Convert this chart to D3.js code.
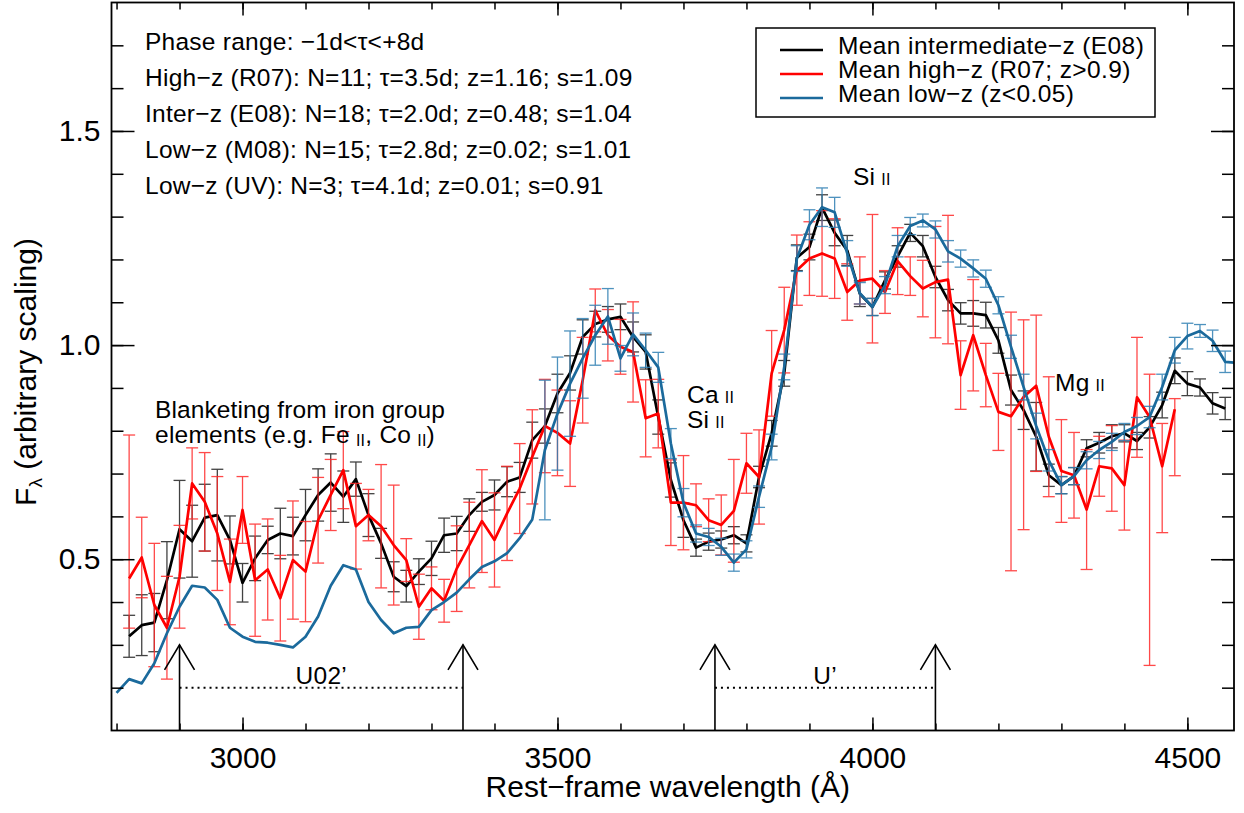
<!DOCTYPE html>
<html lang="en">
<head>
<meta charset="UTF-8">
<title>Mean SN Ia spectra - UV region</title>
<script src="https://d3js.org/d3.v7.min.js"></script>
<style>
  body { margin: 0; background: #fff; }
  svg { font-family: "Liberation Sans", Arial, Helvetica, sans-serif; }
  .axis text { font-size: 30px; fill: #000; }
  .axis line { stroke: #000; stroke-width: 1.5px; }
  .note { font-size: 24.5px; letter-spacing: 0.25px; fill: #000; }
</style>
</head>
<body>
<svg width="1244" height="813"></svg>
<script>
// wavelength grid of the mean spectra (Angstrom)
const wave = [2800, 2820, 2840, 2860, 2880, 2900, 2920, 2940, 2960, 2980,
              3000, 3020, 3040, 3060, 3080, 3100, 3120, 3140, 3160, 3180,
              3200, 3220, 3240, 3260, 3280, 3300, 3320, 3340, 3360, 3380,
              3400, 3420, 3440, 3460, 3480, 3500, 3520, 3540, 3560, 3580,
              3600, 3620, 3640, 3660, 3680, 3700, 3720, 3740, 3760, 3780,
              3800, 3820, 3840, 3860, 3880, 3900, 3920, 3940, 3960, 3980,
              4000, 4020, 4040, 4060, 4080, 4100, 4120, 4140, 4160, 4180,
              4200, 4220, 4240, 4260, 4280, 4300, 4320, 4340, 4360, 4380,
              4400, 4420, 4440, 4460, 4480, 4500, 4520, 4540, 4560, 4580];

// mean intermediate-z (E08), black
const interFlux = [null, 0.320, 0.346, 0.352, 0.451, 0.570, 0.542, 0.597, 0.603, 0.545,
                   0.445, 0.502, 0.545, 0.560, 0.554, 0.603, 0.650, 0.679, 0.646, 0.687,
                   0.603, 0.537, 0.459, 0.437, 0.471, 0.502, 0.556, 0.560, 0.603, 0.634,
                   0.650, 0.681, 0.691, 0.778, 0.811, 0.887, 0.935, 1.019, 1.049, 1.060,
                   1.066, 1.019, 0.984, 0.832, 0.685, 0.591, 0.527, 0.541, 0.546, 0.556,
                   0.537, 0.692, 0.794, 0.934, 1.204, 1.229, 1.321, 1.262, 1.221, 1.120,
                   1.089, 1.151, 1.207, 1.262, 1.231, 1.159, 1.105, 1.074, 1.074, 1.070,
                   1.011, 0.895, 0.848, 0.786, 0.696, 0.673, 0.694, 0.759, 0.772, 0.787,
                   0.794, 0.776, 0.808, 0.860, 0.940, 0.910, 0.901, 0.864, 0.852, null];
const interErr = [null, 0.049, 0.071, 0.068, 0.090, 0.114, 0.084, 0.078, 0.107, 0.056,
                  0.045, 0.052, 0.032, 0.059, 0.044, 0.060, 0.061, 0.067, 0.060, 0.040,
                  0.050, 0.035, 0.035, 0.037, 0.030, 0.040, 0.040, 0.040, 0.038, 0.022,
                  0.035, 0.035, 0.035, 0.042, 0.040, 0.045, 0.040, 0.040, 0.030, 0.030,
                  0.030, 0.035, 0.040, 0.040, 0.040, 0.040, 0.020, 0.020, 0.020, 0.020,
                  0.020, 0.025, 0.030, 0.030, 0.030, 0.030, 0.030, 0.030, 0.035, 0.030,
                  0.020, 0.020, 0.025, 0.020, 0.025, 0.025, 0.025, 0.025, 0.030, 0.030,
                  0.030, 0.035, 0.045, 0.080, 0.026, 0.020, 0.020, 0.020, 0.024, 0.027,
                  0.020, 0.020, 0.025, 0.030, 0.030, 0.028, 0.020, 0.025, 0.026, null];

// mean high-z (R07; z>0.9), red
const highFlux = [null, 0.455, 0.504, 0.393, 0.340, 0.459, 0.677, 0.634, 0.560, 0.447,
                  0.615, 0.451, 0.476, 0.409, 0.498, 0.471, 0.591, 0.650, 0.708, 0.577,
                  0.603, 0.577, 0.533, 0.498, 0.389, 0.432, 0.403, 0.478, 0.533, 0.589,
                  0.545, 0.607, 0.665, 0.739, 0.811, 0.795, 0.770, 0.918, 1.081, 1.023,
                  0.996, 0.984, 0.829, 0.840, 0.632, 0.632, 0.626, 0.591, 0.580, 0.613,
                  0.724, 0.692, 0.934, 1.035, 1.175, 1.202, 1.214, 1.202, 1.124, 1.151,
                  1.155, 1.124, 1.196, 1.161, 1.132, 1.147, 1.153, 0.930, 1.023, 0.930,
                  0.844, 0.834, 0.879, 0.905, 0.786, 0.706, 0.696, 0.616, 0.717, 0.712,
                  0.673, 0.878, 0.832, 0.717, 0.850, null, null, null, null, null];
const highErrMinus = [null, 0.116, 0.094, 0.144, 0.120, 0.120, 0.083, 0.115, 0.133, 0.100,
                      0.078, 0.131, 0.118, 0.100, 0.138, 0.117, 0.100, 0.083, 0.090, 0.100,
                      0.060, 0.144, 0.140, 0.050, 0.076, 0.050, 0.050, 0.100, 0.100, 0.120,
                      0.110, 0.110, 0.105, 0.110, 0.109, 0.100, 0.100, 0.100, 0.050, 0.060,
                      0.064, 0.117, 0.090, 0.080, 0.100, 0.110, 0.050, 0.050, 0.070, 0.120,
                      0.070, 0.110, 0.100, 0.100, 0.082, 0.086, 0.100, 0.093, 0.066, 0.055,
                      0.150, 0.050, 0.078, 0.045, 0.066, 0.130, 0.150, 0.080, 0.130, 0.074,
                      0.090, 0.361, 0.310, 0.200, 0.140, 0.120, 0.100, 0.140, 0.070, 0.100,
                      0.105, 0.140, 0.580, 0.155, 0.155, null, null, null, null, null];
const highErrPlus = [null, 0.335, 0.094, 0.144, 0.120, 0.120, 0.083, 0.115, 0.133, 0.100,
                     0.078, 0.131, 0.118, 0.100, 0.138, 0.117, 0.100, 0.083, 0.090, 0.100,
                     0.060, 0.144, 0.140, 0.050, 0.076, 0.050, 0.050, 0.100, 0.100, 0.120,
                     0.110, 0.110, 0.105, 0.110, 0.109, 0.100, 0.100, 0.100, 0.050, 0.060,
                     0.064, 0.117, 0.090, 0.080, 0.100, 0.110, 0.050, 0.050, 0.070, 0.120,
                     0.070, 0.110, 0.100, 0.100, 0.082, 0.086, 0.100, 0.093, 0.066, 0.055,
                     0.150, 0.050, 0.078, 0.045, 0.066, 0.130, 0.150, 0.080, 0.130, 0.074,
                     0.090, 0.243, 0.180, 0.165, 0.140, 0.120, 0.100, 0.140, 0.070, 0.100,
                     0.105, 0.140, 0.100, 0.100, 0.025, null, null, null, null, null];

// mean low-z (z<0.05), blue; errors only redward of 3480
const lowFlux = [0.188, 0.220, 0.210, 0.257, 0.327, 0.389, 0.438, 0.434, 0.405, 0.340,
                 0.319, 0.307, 0.305, 0.300, 0.294, 0.319, 0.366, 0.438, 0.486, 0.476,
                 0.400, 0.358, 0.327, 0.340, 0.342, 0.381, 0.400, 0.422, 0.453, 0.482,
                 0.495, 0.514, 0.549, 0.593, 0.755, 0.840, 0.910, 0.969, 1.023, 1.067,
                 0.969, 1.025, 0.988, 0.948, 0.770, 0.632, 0.560, 0.552, 0.529, 0.492,
                 0.523, 0.646, 0.762, 0.949, 1.202, 1.281, 1.322, 1.310, 1.214, 1.121,
                 1.089, 1.140, 1.231, 1.278, 1.291, 1.270, 1.219, 1.202, 1.179, 1.155,
                 1.093, 0.996, 0.902, 0.811, 0.731, 0.673, 0.694, 0.731, 0.755, 0.774,
                 0.797, 0.811, 0.832, 0.902, 0.988, 1.021, 1.033, 1.010, 0.961, 0.958];
const lowErr = [null, null, null, null, null, null, null, null, null, null,
                null, null, null, null, null, null, null, null, null, null,
                null, null, null, null, null, null, null, null, null, null,
                null, null, null, null, 0.163, 0.132, 0.123, 0.093, 0.070, 0.065,
                0.030, 0.050, 0.040, 0.035, 0.035, 0.033, 0.020, 0.020, 0.020, 0.020,
                0.020, 0.025, 0.030, 0.030, 0.030, 0.035, 0.045, 0.035, 0.030, 0.025,
                0.020, 0.020, 0.025, 0.020, 0.015, 0.020, 0.025, 0.020, 0.020, 0.020,
                0.020, 0.027, 0.030, 0.030, 0.025, 0.020, 0.020, 0.020, 0.020, 0.020,
                0.020, 0.020, 0.025, 0.030, 0.030, 0.030, 0.015, 0.025, 0.025, null];

// axis ranges and ticks
const xLimits = [2792, 4574];
const yLimits = [0.1, 1.8];
const xMajorTicks = [3000, 3500, 4000, 4500];
const xMinorTicks = [2800, 2900, 3000, 3100, 3200, 3300, 3400, 3500, 3600, 3700, 3800,
                     3900, 4000, 4100, 4200, 4300, 4400, 4500];
const yMajorTicks = [0.5, 1.0, 1.5];
const yMinorTicks = [0.2, 0.3, 0.4, 0.5, 0.6, 0.7, 0.8, 0.9, 1.0, 1.1, 1.2, 1.3, 1.4,
                     1.5, 1.6, 1.7];

// filter bands marked with arrows
const bandEdges = [2900, 3350, 3750, 4100];
const bandNames = ["U02\u2019", "U\u2019"];
const bandCentres = [3125, 3925];
const arrowTip = 0.3;
const bandLevel = 0.2;

const legendLabels = ["Mean intermediate\u2212z (E08)", "Mean high\u2212z (R07; z>0.9)", "Mean low\u2212z (z<0.05)"];
const infoLines = ["Phase range: \u22121d<\u03c4<+8d",
                   "High\u2212z (R07): N=11; \u03c4=3.5d; z=1.16; s=1.09",
                   "Inter\u2212z (E08): N=18; \u03c4=2.0d; z=0.48; s=1.04",
                   "Low\u2212z (M08): N=15; \u03c4=2.8d; z=0.02; s=1.01",
                   "Low\u2212z (UV): N=3; \u03c4=4.1d; z=0.01; s=0.91"];

const colBlack = "#000000", colRed = "#ff0000", colBlue = "#1b6a9c";

const svg = d3.select("svg");
const plotLeft = 111.5, plotRight = 1234, plotTop = 2.5, plotBottom = 730.5;

const x = d3.scaleLinear().domain(xLimits).range([plotLeft, plotRight]);
const y = d3.scaleLinear().domain(yLimits).range([plotBottom, plotTop]);

svg.append("defs").append("clipPath").attr("id", "plotclip")
    .append("rect").attr("x", plotLeft).attr("y", plotTop)
    .attr("width", plotRight - plotLeft).attr("height", plotBottom - plotTop);

const plot = svg.append("g").attr("clip-path", "url(#plotclip)");

// one spectrum: error bars then the line
function drawSeries(flux, errMinus, errPlus, color, barColor) {
    const pts = wave.map((w, i) => ({ w: w, v: flux[i], lo: errMinus ? errMinus[i] : null, hi: errPlus ? errPlus[i] : null }))
        .filter(d => d.v !== null);
    const bars = pts.filter(d => d.lo !== null);
    const eb = plot.append("g").attr("stroke", barColor).attr("stroke-width", 1.3).attr("opacity", 0.85);
    eb.selectAll(".bar").data(bars).enter().append("line")
        .attr("x1", d => x(d.w)).attr("x2", d => x(d.w))
        .attr("y1", d => y(d.v - d.lo)).attr("y2", d => y(d.v + d.hi));
    eb.selectAll(".capl").data(bars).enter().append("line")
        .attr("x1", d => x(d.w) - 6).attr("x2", d => x(d.w) + 6)
        .attr("y1", d => y(d.v - d.lo)).attr("y2", d => y(d.v - d.lo));
    eb.selectAll(".caph").data(bars).enter().append("line")
        .attr("x1", d => x(d.w) - 6).attr("x2", d => x(d.w) + 6)
        .attr("y1", d => y(d.v + d.hi)).attr("y2", d => y(d.v + d.hi));
    plot.append("path").datum(pts)
        .attr("fill", "none").attr("stroke", color).attr("stroke-width", 2.7)
        .attr("stroke-linejoin", "round")
        .attr("d", d3.line().x(d => x(d.w)).y(d => y(d.v)));
}

drawSeries(interFlux, interErr, interErr, colBlack, "#222");
drawSeries(highFlux, highErrMinus, highErrPlus, colRed, "#ff2a2a");
drawSeries(lowFlux, lowErr, lowErr, colBlue, "#2f7fb3");

// arrows and dotted bands
const marks = svg.append("g").attr("stroke", "#000").attr("stroke-width", 1.6).attr("fill", "none");
bandEdges.forEach(w => {
    marks.append("line").attr("x1", x(w)).attr("x2", x(w)).attr("y1", y(yLimits[0])).attr("y2", y(arrowTip));
    marks.append("path").attr("d", `M${x(w) - 15},${y(arrowTip) + 25}L${x(w)},${y(arrowTip)}L${x(w) + 15},${y(arrowTip) + 25}`);
});
[[bandEdges[0], bandEdges[1]], [bandEdges[2], bandEdges[3]]].forEach(b => {
    marks.append("line").attr("x1", x(b[0])).attr("x2", x(b[1]))
        .attr("y1", y(bandLevel)).attr("y2", y(bandLevel))
        .attr("stroke-width", 2).attr("stroke-dasharray", "2,4");
});
bandNames.forEach((n, i) => {
    svg.append("text").attr("class", "note").attr("x", x(bandCentres[i])).attr("y", y(bandLevel) - 4)
        .attr("text-anchor", "middle").text(n);
});

// axes: ticks point inwards on all four sides
function axisGroup(axis, tx, ty) {
    const g = svg.append("g").attr("class", "axis").attr("transform", `translate(${tx},${ty})`).call(axis);
    g.select(".domain").remove();
    return g;
}
axisGroup(d3.axisBottom(x).tickValues(xMinorTicks).tickSize(-7).tickFormat(""), 0, plotBottom);
axisGroup(d3.axisBottom(x).tickValues(xMajorTicks).tickSize(-13).tickPadding(16).tickFormat(d3.format("d")), 0, plotBottom);
axisGroup(d3.axisTop(x).tickValues(xMinorTicks).tickSize(-7).tickFormat(""), 0, plotTop);
axisGroup(d3.axisTop(x).tickValues(xMajorTicks).tickSize(-13).tickFormat(""), 0, plotTop);
axisGroup(d3.axisLeft(y).tickValues(yMinorTicks).tickSize(-12).tickFormat(""), plotLeft, 0);
axisGroup(d3.axisLeft(y).tickValues(yMajorTicks).tickSize(-23).tickPadding(11).tickFormat(d3.format(".1f")), plotLeft, 0);
axisGroup(d3.axisRight(y).tickValues(yMinorTicks).tickSize(-12).tickFormat(""), plotRight, 0);
axisGroup(d3.axisRight(y).tickValues(yMajorTicks).tickSize(-23).tickFormat(""), plotRight, 0);

svg.append("rect").attr("x", plotLeft).attr("y", plotTop).attr("width", plotRight - plotLeft).attr("height", plotBottom - plotTop)
    .attr("fill", "none").attr("stroke", "#000").attr("stroke-width", 1.8);

// axis titles
svg.append("text").attr("x", (plotLeft + plotRight) / 2 - 5).attr("y", 797).attr("text-anchor", "middle")
    .style("font-size", "30px").text("Rest\u2212frame wavelength (\u00c5)");
const yt = svg.append("text").attr("transform", "translate(35.5,372) rotate(-90)")
    .attr("text-anchor", "middle").style("font-size", "30px");
yt.append("tspan").text("F");
yt.append("tspan").attr("dy", 6).style("font-size", "19px").text("\u03bb");
yt.append("tspan").attr("dy", -6).text(" (arbitrary scaling)");

// info block
svg.append("g").selectAll("text").data(infoLines).enter().append("text")
    .attr("class", "note").attr("x", 145).attr("y", (d, i) => 50 + i * 36).text(d => d);

// legend
const lg = svg.append("g");
lg.append("rect").attr("x", 756).attr("y", 28).attr("width", 399).attr("height", 89)
    .attr("fill", "#fff").attr("stroke", "#000").attr("stroke-width", 1.5);
[colBlack, colRed, colBlue].forEach((c, i) => {
    const yy = 53.5 + i * 24;
    lg.append("line").attr("x1", 780).attr("x2", 823).attr("y1", yy - 3.5).attr("y2", yy - 3.5)
        .attr("stroke", c).attr("stroke-width", 2.7);
    lg.append("text").attr("x", 838).attr("y", yy).style("font-size", "24.5px")
        .style("letter-spacing", "0.4px").text(legendLabels[i]);
});

// ion labels: small roman numerals
function ionLabel(xp, yp, parts, drop) {
    const t = svg.append("text").attr("class", "note").attr("x", xp).attr("y", yp);
    parts.forEach(p => {
        if (p[1]) {
            t.append("tspan").attr("dx", 6).attr("dy", drop).style("font-size", "16px").text(p[0]);
        } else {
            t.append("tspan").attr("dy", p[2] ? -drop : 0).text(p[0]);
        }
    });
}
svg.append("text").attr("class", "note").attr("x", 155).attr("y", 418)
    .style("letter-spacing", "0.1px").text("Blanketing from iron group");
ionLabel(155, 443, [["elements (e.g. Fe", false], ["II", true], [", Co", false, true], ["II", true], [")", false, true]], 3);
ionLabel(687, 403, [["Ca", false], ["II", true]], 0);
ionLabel(687, 428, [["Si", false], ["II", true]], 0);
ionLabel(853, 185, [["Si", false], ["II", true]], 0);
ionLabel(1055, 391, [["Mg", false], ["II", true]], 0);
</script>
</body>
</html>
